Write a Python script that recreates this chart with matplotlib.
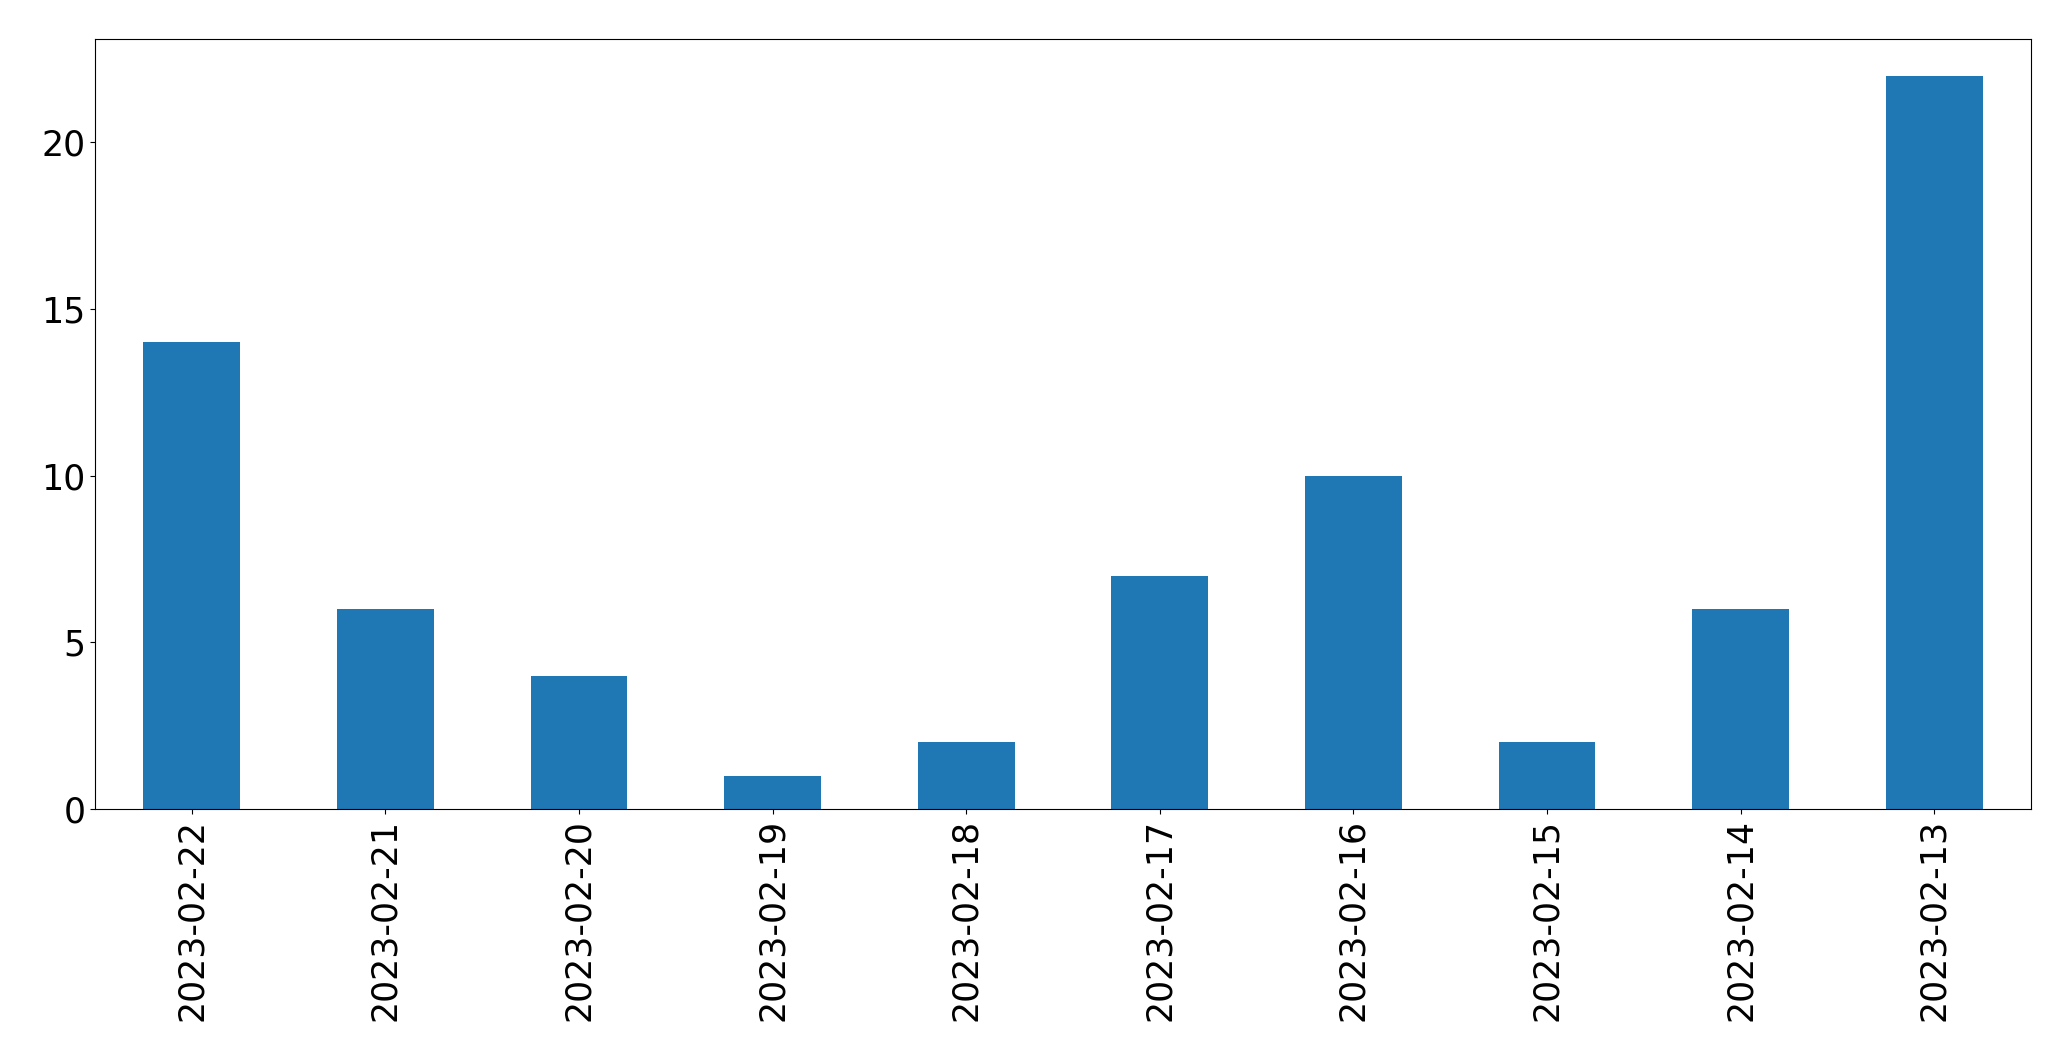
import matplotlib
matplotlib.use("Agg")
import matplotlib.pyplot as plt
import pandas as pd

# Даты и количество записей за день
dates = ["2023-02-22", "2023-02-21", "2023-02-20", "2023-02-19", "2023-02-18",
         "2023-02-17", "2023-02-16", "2023-02-15", "2023-02-14", "2023-02-13"]
counts = [14, 6, 4, 1, 2, 7, 10, 2, 6, 22]

series = pd.Series(counts, index=dates)

fig = plt.figure(figsize=(20.71, 10.61), dpi=100)
ax = fig.add_axes([95 / 2071, 1 - 809 / 1061, (2031 - 95) / 2071, (809 - 39) / 1061])
series.plot(kind="bar", ax=ax, color="#1f77b4")
ax.tick_params(axis="both", labelsize=25)
fig.savefig("out.png", dpi=100)
